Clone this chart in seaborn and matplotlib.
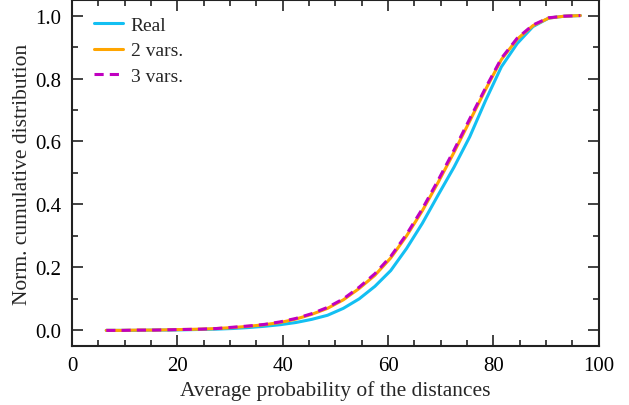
import numpy as np
import pandas as pd
import seaborn as sns
import matplotlib.pyplot as plt
from matplotlib.ticker import MultipleLocator

# valori
x = [6.5, 9.5, 12.5, 15.5, 18.5, 21.5, 24.5, 27.5, 30.5, 33.5, 36.5,
     39.5, 42.5, 45.5, 48.5, 51.5, 54.5, 57.5, 60.5, 63.5, 66.5, 69.5,
     72.5, 75.5, 78.5, 81.5, 84.5, 87.5, 90.5, 93.5, 96.5]
real = [0.0, 0.0, 0.0, 0.001, 0.001, 0.002, 0.003, 0.004, 0.006, 0.009, 0.013,
        0.018, 0.025, 0.035, 0.048, 0.07, 0.10, 0.14, 0.19, 0.26, 0.34, 0.43,
        0.518, 0.615, 0.73, 0.837, 0.911, 0.965, 0.992, 0.998, 1.0]
vars2 = [0.0, 0.0, 0.001, 0.001, 0.002, 0.003, 0.004, 0.006, 0.009, 0.013, 0.018,
         0.025, 0.036, 0.051, 0.07, 0.097, 0.133, 0.175, 0.23, 0.30, 0.38, 0.47,
         0.565, 0.665, 0.765, 0.86, 0.925, 0.968, 0.992, 0.998, 1.0]
vars3 = [0.0, 0.0, 0.001, 0.001, 0.002, 0.003, 0.004, 0.006, 0.010, 0.014, 0.019,
         0.027, 0.038, 0.053, 0.073, 0.10, 0.137, 0.18, 0.235, 0.305, 0.386, 0.477,
         0.572, 0.672, 0.77, 0.864, 0.928, 0.97, 0.993, 0.998, 1.0]

df = pd.DataFrame({"x": x, "Real": real, "2 vars.": vars2, "3 vars.": vars3})

sns.set_style("ticks")
plt.rcParams["font.family"] = ["Liberation Serif", "DejaVu Serif"]

fig = plt.figure(figsize=(6.29, 4.06), dpi=100)
ax = fig.add_axes([0.1145, 0.145, 0.8375, 0.853])

sns.lineplot(data=df, x="x", y="Real", ax=ax, color="#13BFF2", lw=2.2, label="Real")
sns.lineplot(data=df, x="x", y="2 vars.", ax=ax, color="#FFA500", lw=2.2, label="2 vars.")
sns.lineplot(data=df, x="x", y="3 vars.", ax=ax, color="#C000C0", lw=2.2,
             label="3 vars.", linestyle=(0, (3.0, 2.0)))

ax.set_xlim(0, 100)
ax.set_ylim(-0.05, 1.05)
ax.xaxis.set_major_locator(MultipleLocator(20))
ax.xaxis.set_minor_locator(MultipleLocator(5))
ax.yaxis.set_major_locator(MultipleLocator(0.2))
ax.yaxis.set_minor_locator(MultipleLocator(0.1))
ax.yaxis.set_major_formatter(plt.FormatStrFormatter("%.1f"))
ax.tick_params(which="both", direction="in", top=True, right=True,
               labelsize=15, width=1.2, color="#222222", labelcolor="black")
ax.tick_params(which="major", length=8)
ax.tick_params(which="minor", length=4)
ax.tick_params(axis="x", pad=7)
ax.tick_params(axis="y", pad=8)
for s in ax.spines.values():
    s.set_linewidth(1.5)
    s.set_color("#222222")

ax.set_xlabel("Average probability of the distances", fontsize=15.5, labelpad=4)
ax.set_ylabel("Norm. cumulative distribution", fontsize=15.5, labelpad=2)
ax.legend(loc="upper left", bbox_to_anchor=(0.01, 1.0), frameon=False,
          fontsize=14, handlelength=1.5, handletextpad=0.4, borderaxespad=0.4,
          labelspacing=0.4, borderpad=0.45)

fig.savefig("out.png", dpi=100)
